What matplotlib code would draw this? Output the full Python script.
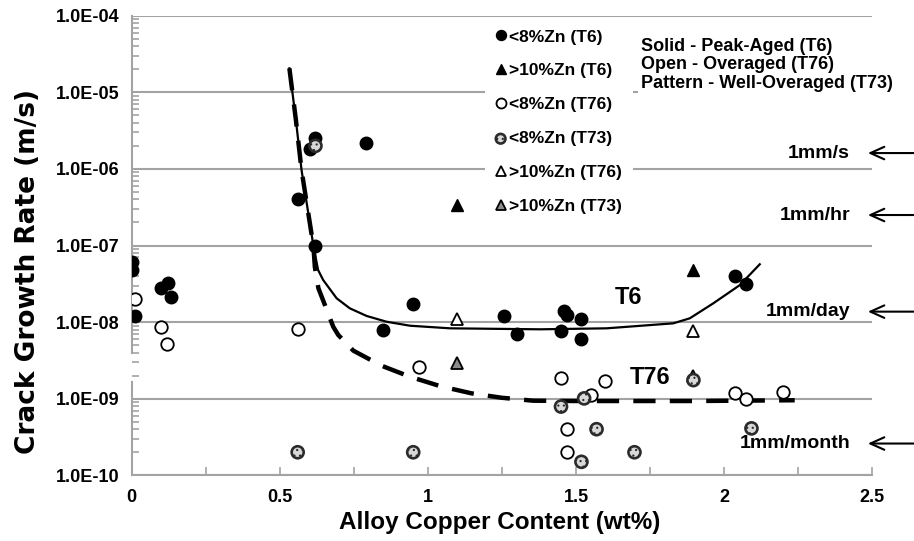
import numpy as np
import matplotlib
matplotlib.use("Agg")
import matplotlib.pyplot as plt
from matplotlib.ticker import LogLocator, FixedLocator, FuncFormatter, NullFormatter

plt.rcParams['font.family'] = ['Liberation Sans', 'DejaVu Sans']
plt.rcParams['font.weight'] = 'bold'
plt.rcParams['hatch.color'] = '#8a8a8a'
plt.rcParams['hatch.linewidth'] = 0.8

# <8%Zn, peak-aged (T6) - solid circles
t6_lo_x = [0.0, 0.0, 0.011, 0.10, 0.121, 0.131, 0.56, 0.601, 0.619, 0.619, 0.79,
           0.849, 0.949, 1.258, 1.299, 1.46, 1.47, 1.449, 1.518, 1.518, 2.036, 2.075]
t6_lo_y = [6.1e-8, 4.8e-8, 1.2e-8, 2.8e-8, 3.25e-8, 2.1e-8, 4.0e-7, 1.8e-6, 2.5e-6, 1.0e-7, 2.2e-6,
           7.9e-9, 1.7e-8, 1.2e-8, 7.0e-9, 1.4e-8, 1.24e-8, 7.7e-9, 1.1e-8, 6.0e-9, 4.0e-8, 3.1e-8]

# >10%Zn (T6) - solid triangles
t6_hi_x = [1.097, 1.895]
t6_hi_y = [3.4e-7, 4.8e-8]

# <8%Zn (T76) - open circles
t76_lo_x = [0.011, 0.10, 0.12, 0.56, 0.969, 1.449, 1.598, 1.549, 1.468, 1.468, 2.036, 2.075, 2.197]
t76_lo_y = [2.0e-8, 8.7e-9, 5.2e-9, 8.05e-9, 2.57e-9, 1.88e-9, 1.72e-9, 1.12e-9, 4.0e-10, 2.0e-10,
            1.2e-9, 1.0e-9, 1.24e-9]

# <8%Zn (T73) - patterned circles
t73_lo_x = [0.62, 0.56, 0.95, 1.449, 1.527, 1.569, 1.697, 1.518, 2.092, 1.896]
t73_lo_y = [2.0e-6, 2.0e-10, 2.0e-10, 7.9e-10, 1.01e-9, 4.0e-10, 2.0e-10, 1.5e-10, 4.1e-10, 1.75e-9]

# >10%Zn (T76) - open triangles
t76_hi_x = [1.099, 1.896]
t76_hi_y = [1.09e-8, 7.7e-9]

# >10%Zn (T73) - patterned triangles
t73_hi_x = [1.099, 1.896]
t73_hi_y = [2.95e-9, 2.0e-9]

# trend lines (log10 of rate)
t6_curve_x = [0.532, 0.554, 0.573, 0.613, 0.629, 0.646, 0.6915, 0.736, 0.793, 0.860, 0.939,
              1.074, 1.378, 1.603, 1.828, 1.884, 1.963, 2.053, 2.12]
t6_curve_log = [-4.687, -5.361, -6.014, -7.003, -7.32, -7.45, -7.689, -7.82, -7.92, -7.995, -8.047,
                -8.081, -8.094, -8.081, -8.016, -7.95, -7.755, -7.516, -7.245]
t76_curve_x = [0.532, 0.554, 0.573, 0.613, 0.618, 0.630, 0.652, 0.680, 0.697, 0.748, 0.843, 0.939,
               1.043, 1.147, 1.248, 1.355, 1.5, 1.9, 2.238]
t76_curve_log = [-4.687, -5.361, -6.014, -7.003, -7.28, -7.559, -7.777, -8.06, -8.168, -8.373, -8.569,
                 -8.713, -8.838, -8.93, -8.987, -9.026, -9.03, -9.03, -9.02]

# crack-rate reference marks
rate_labels = ['1mm/s', '1mm/hr', '1mm/day', '1mm/month']
rate_y = [1.61e-6, 2.5e-7, 1.37e-8, 2.6e-10]

legend_labels = ['<8%Zn (T6)', '>10%Zn (T6)', '<8%Zn (T76)', '<8%Zn (T73)', '>10%Zn (T76)', '>10%Zn (T73)']
note_text = 'Solid - Peak-Aged (T6)\nOpen - Overaged (T76)\nPattern - Well-Overaged (T73)'

grey = '#a3a3a3'

fig = plt.figure(figsize=(9.14, 5.41), dpi=100)
ax = fig.add_axes([0.1442, 0.1214, 0.8102, 0.8496])
ax.set_yscale('log')
ax.set_xlim(0, 2.5)
ax.set_ylim(1e-10, 1e-4)

# gridlines
ax.yaxis.grid(True, which='major', color=grey, lw=1.5, zorder=0)
ax.set_axisbelow(True)

# curves
ax.plot(t6_curve_x, 10 ** np.array(t6_curve_log), color='black', lw=1.6, zorder=3)
ax.plot(t76_curve_x, 10 ** np.array(t76_curve_log), color='black', lw=3.2,
        dashes=(5, 3.2), zorder=3)

# data points
ms = 9
h1, = ax.plot(t6_lo_x, t6_lo_y, 'o', ms=ms, color='black', ls='none', zorder=4)
h2, = ax.plot(t6_hi_x, t6_hi_y, '^', ms=ms - 0.5, color='black', ls='none', zorder=4)
h3, = ax.plot(t76_lo_x, t76_lo_y, 'o', ms=ms, mfc='white', mec='black', mew=1.3, ls='none', zorder=4)
h5, = ax.plot(t76_hi_x, t76_hi_y, '^', ms=ms - 0.5, mfc='white', mec='black', mew=1.3, ls='none', zorder=4)
h6, = ax.plot(t73_hi_x, t73_hi_y, '^', ms=ms - 0.5, mfc='#8c8c8c', mec='black', mew=1.3, ls='none', zorder=4)
h4 = ax.scatter(t73_lo_x, t73_lo_y, s=75, facecolor='#d8d8d8', edgecolor='#2b2b2b',
                linewidths=1.9, hatch='...', zorder=5)

# ticks
ax.yaxis.set_major_formatter(FuncFormatter(lambda v, p: f'{v:.1E}'))
ax.yaxis.set_minor_locator(LogLocator(base=10, subs=range(2, 10)))
ax.yaxis.set_minor_formatter(NullFormatter())
ax.tick_params(axis='y', which='major', length=0, pad=9, labelsize=13)
ax.tick_params(axis='y', which='minor', direction='in', length=5, width=1.2, color=grey)
ax.xaxis.set_major_locator(FixedLocator([0, 0.5, 1, 1.5, 2, 2.5]))
ax.xaxis.set_minor_locator(FixedLocator([0.25, 0.75, 1.25, 1.75, 2.25]))
ax.xaxis.set_major_formatter(FuncFormatter(lambda v, p: f'{v:g}'))
ax.tick_params(axis='x', which='both', direction='in', length=6, width=1.2, color=grey,
               pad=10, labelsize=13)

for s in ['top', 'right', 'left']:
    ax.spines[s].set_visible(False)
ax.spines['bottom'].set_color(grey)
ax.spines['bottom'].set_linewidth(1.5)
# left spine with a small break near 1E-09
gap_lo = (np.log10(1.65e-9) + 10) / 6
gap_hi = (np.log10(3.9e-9) + 10) / 6
ax.axvline(0, ymin=0, ymax=gap_lo, color=grey, lw=1.5, clip_on=False, zorder=1)
ax.axvline(0, ymin=gap_hi, ymax=1, color=grey, lw=1.5, clip_on=False, zorder=1)

# legend
leg = ax.legend([h1, h2, h3, h4, h5, h6], legend_labels, loc='upper left',
                bbox_to_anchor=(485 / 914, 1 - 19 / 541), bbox_transform=fig.transFigure,
                frameon=True, facecolor='white', edgecolor='none', framealpha=1, fancybox=False,
                fontsize=12.5, handlelength=0.6, handletextpad=0.2, labelspacing=1.08,
                borderpad=0.6, borderaxespad=0, markerscale=0.8)
leg.set_zorder(6)

ax.text(1.7185, 10 ** -4.291, note_text, fontsize=13, va='top', ha='left', linespacing=1.1,
        bbox=dict(facecolor='white', edgecolor='none', pad=2), zorder=6)

ax.text(1.678, 2.07e-8, 'T6', fontsize=17, ha='center', va='center', zorder=6)
ax.text(1.749, 1.92e-9, 'T76', fontsize=17, ha='center', va='center', zorder=6)

for lab, yv in zip(rate_labels, rate_y):
    ax.text(2.425, yv, lab, fontsize=14, ha='right', va='center', zorder=6)
    ax.annotate('', xy=(2.485, yv), xytext=(2.64, yv), annotation_clip=False,
                arrowprops=dict(arrowstyle='->,head_length=1.0,head_width=0.45', lw=1.5,
                                color='black', shrinkA=0, shrinkB=0))

fig.text(28 / 914, 1 - 271 / 541, 'Crack Growth Rate (m/s)', rotation=90, ha='center', va='center',
         fontsize=19, fontweight='bold', family='DejaVu Sans')
fig.text(500 / 914, 1 - 522 / 541, 'Alloy Copper Content (wt%)', ha='center', va='center',
         fontsize=17.5, fontweight='bold')

fig.savefig('out.png', dpi=100)
